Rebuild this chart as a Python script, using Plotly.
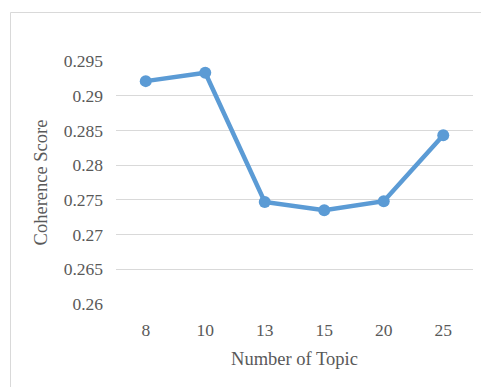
import plotly.graph_objects as go

topics = ["8", "10", "13", "15", "20", "25"]
coherence = [0.2921, 0.2933, 0.2747, 0.2735, 0.2748, 0.2843]
y_ticks = [0.26, 0.265, 0.27, 0.275, 0.28, 0.285, 0.29, 0.295]
y_tick_text = ["0.26", "0.265", "0.27", "0.275", "0.28", "0.285", "0.29", "0.295"]

W, H = 481, 387
ML, MR, MT, MB = 116, 8, 61, 83
pw, ph = W - ML - MR, H - MT - MB

tick_font = dict(family="Liberation Serif, serif", size=17.5, color="#595959")
title_font = dict(family="Liberation Serif, serif", size=18.5, color="#595959")

fig = go.Figure(
    go.Scatter(
        x=topics,
        y=coherence,
        mode="lines+markers",
        line=dict(color="#5B9BD5", width=4.5),
        marker=dict(color="#5B9BD5", size=12),
    )
)

fig.update_layout(
    width=W,
    height=H,
    margin=dict(l=ML, r=MR, t=MT, b=MB, pad=0),
    paper_bgcolor="white",
    plot_bgcolor="white",
    showlegend=False,
    font=tick_font,
    xaxis=dict(
        type="category",
        range=[-0.5, 5.5],
        showgrid=False,
        showline=False,
        zeroline=False,
        ticks="",
        tickfont=tick_font,
        ticklabelstandoff=13,
        title=dict(text="Number of Topic", font=title_font, standoff=13),
    ),
    yaxis=dict(
        range=[0.26, 0.295],
        tickvals=y_ticks,
        ticktext=y_tick_text,
        showgrid=True,
        gridcolor="#D9D9D9",
        gridwidth=1,
        zeroline=False,
        showline=False,
        ticks="",
        tickfont=tick_font,
        ticklabelstandoff=12,
        title=dict(text="Coherence Score", font=title_font, standoff=11),
    ),
    shapes=[
        dict(
            type="rect",
            xref="paper",
            yref="paper",
            x0=(10.5 - ML) / pw,
            x1=2,
            y0=-2,
            y1=(ph + MT - 12.5) / ph,
            line=dict(color="#D9D9D9", width=1),
            layer="below",
        )
    ],
)

fig.write_html("out.html")
